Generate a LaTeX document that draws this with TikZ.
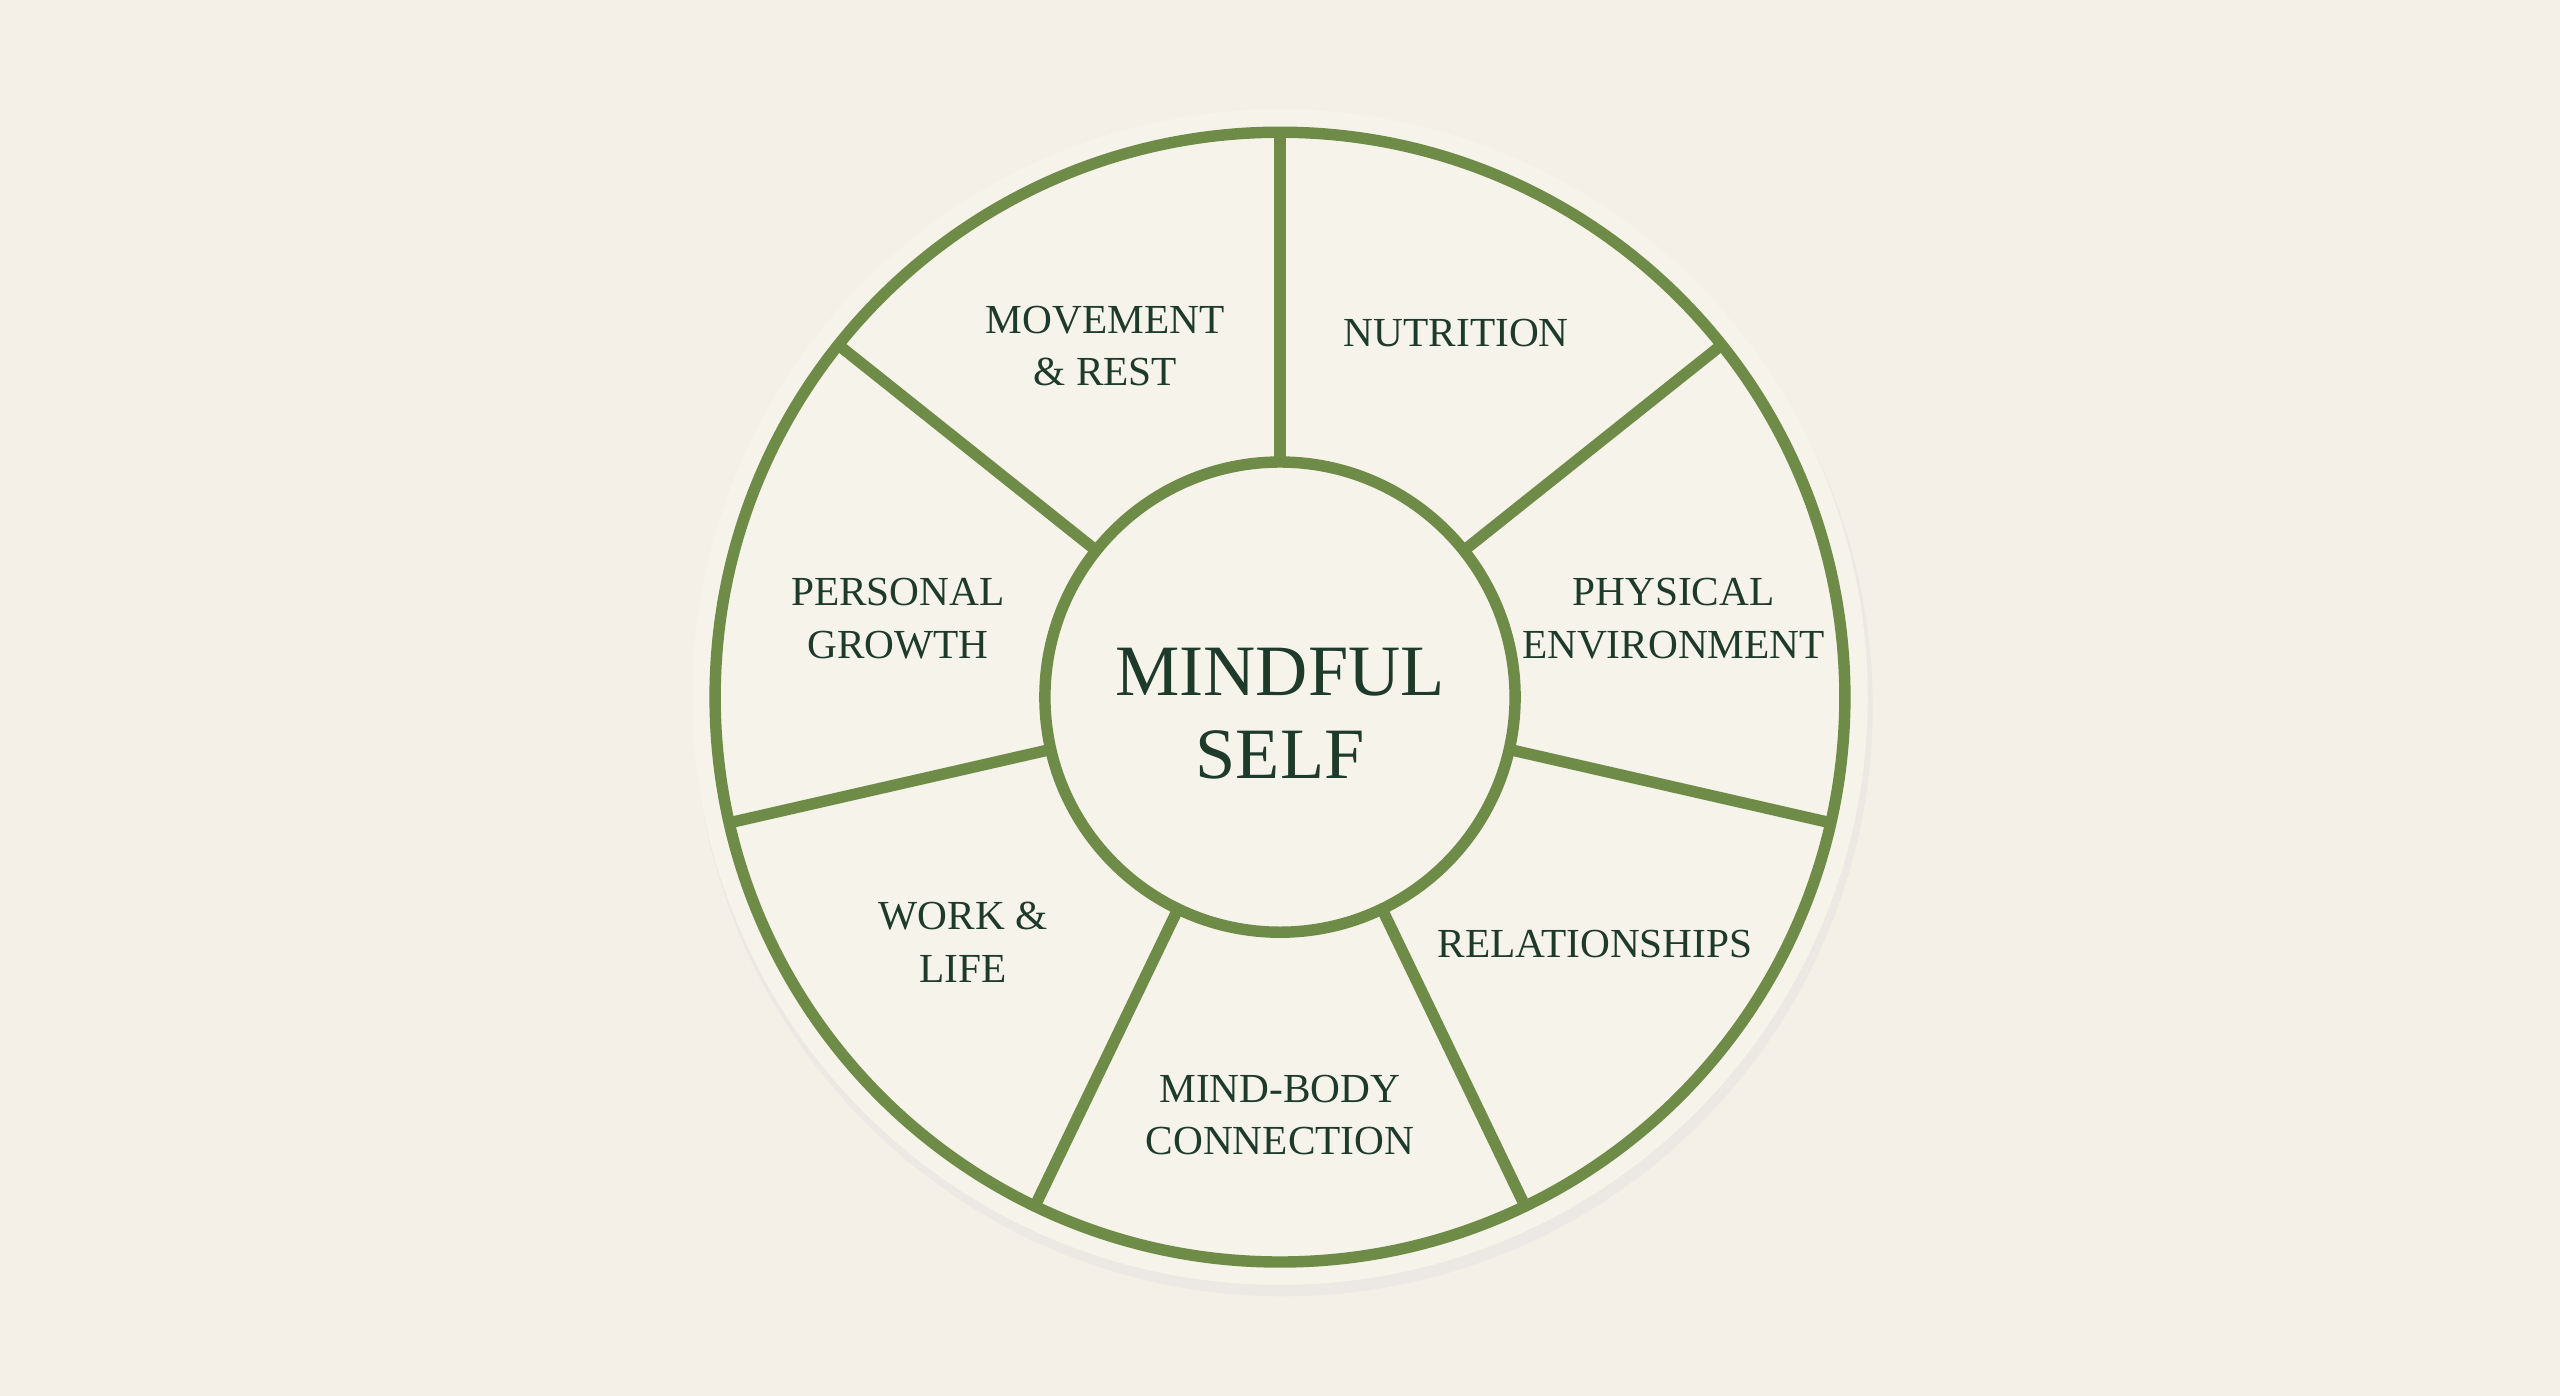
\documentclass[tikz,border=0pt]{standalone}
\usetikzlibrary{calc}
\usepackage{fontspec}
\setmainfont{Liberation Serif}
\begin{document}
\begin{tikzpicture}[x=0.1mm,y=-0.1mm,
  spoke/.style={line width=0.7mm,draw=wgreen},
  lab/.style={text=wtext,align=center,font=\fontsize{7.2pt}{9.2pt}\selectfont}]
\definecolor{bg}{HTML}{F4F0E7}
\definecolor{disc}{HTML}{F6F3EA}
\definecolor{wgreen}{HTML}{6E8B47}
\definecolor{wtext}{HTML}{1E3A2A}
\fill[bg] (0,0) rectangle (1568,855);
\useasboundingbox (0,0) rectangle (1568,855);
\coordinate (c) at (784,427);
\fill[black!12,opacity=0.4] (786,433) circle (361);
\fill[disc] (c) circle (360);
\draw[spoke] (c) circle (346);
\foreach \a in {90,38.57,-12.86,-64.29,-115.71,192.86,141.43}{
  \draw[spoke] ($(c)+(-\a:144)$) -- ($(c)+(-\a:346)$);
}
\draw[spoke,fill=disc] (c) circle (144);
\node[lab] (mr) at (677,212) {MOVEMENT\\\& REST};
\node[lab] (nu) at (892,204) {NUTRITION};
\node[lab] (pg) at (550,379) {PERSONAL\\GROWTH};
\node[lab] (pe) at (1025,379) {PHYSICAL\\ENVIRONMENT};
\node[lab] (wl) at (590,577) {WORK \&\\LIFE};
\node[lab] (re) at (977,578) {RELATIONSHIPS};
\node[lab] (mb) at (784,683) {MIND-BODY\\CONNECTION};
\node[lab,font=\fontsize{12.6pt}{14.5pt}\selectfont] (ms) at (784,437) {MINDFUL\\SELF};
\end{tikzpicture}
\end{document}
